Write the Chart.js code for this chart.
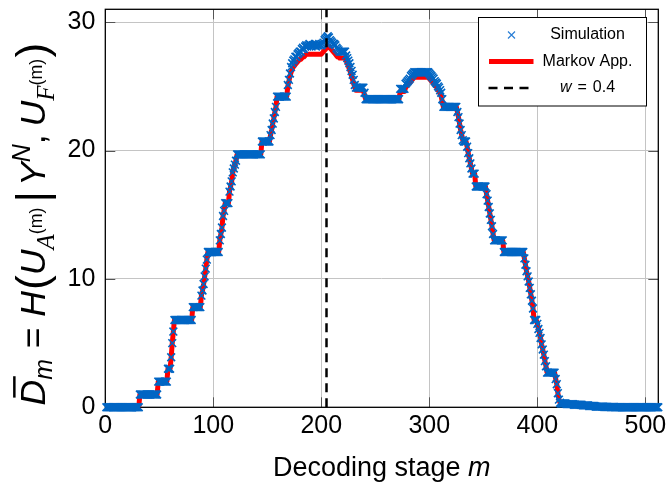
<!DOCTYPE html>
<html><head><meta charset="utf-8">
<script src="https://cdn.jsdelivr.net/npm/chart.js@4.4.1/dist/chart.umd.min.js"></script>
<style>html,body{margin:0;padding:0;background:#fff}</style>
</head><body>
<canvas id="c" width="669" height="483"></canvas>
<script>
// ---- data (stage m = 1..512) ----
const simulation = [
0,0,0,0,0,0,0,0,0,0,
0,0,0,0,0,0,0,0,0,0,
0,0,0,0,0,0,0,0,0,0,
0,1,1,1,1,1,1,1,1,1,
1,1,1,1,1,1,1,1,2,2,
2,2,2,2,2,2,2,3,3,3,
3.9,5.0,5.9,6.8,6.8,6.8,6.8,6.8,6.8,6.8,
6.8,6.8,6.8,6.8,6.8,6.8,6.8,6.8,6.8,6.8,
7.8,7.8,7.8,7.8,7.8,7.8,7.8,7.8,8.7,9.1,
9.6,10.2,10.8,11.5,12.1,12.1,12.1,12.1,12.1,12.1,
12.1,12.1,12.1,12.1,12.1,13.0,13.5,14.0,14.9,15.3,
15.9,15.9,15.9,15.9,16.8,17.2,17.6,18.3,18.6,18.9,
19.2,19.7,19.7,19.7,19.7,19.7,19.7,19.7,19.7,19.7,
19.7,19.7,19.7,19.7,19.7,19.7,19.7,19.7,19.7,19.7,
19.7,19.7,19.7,19.7,20.7,20.7,20.7,20.7,20.7,20.7,
20.7,20.7,21.2,21.6,22.1,22.5,23.0,23.4,24.2,24.2,
24.2,24.2,24.2,24.2,24.2,24.2,24.2,24.2,25.1,25.5,
26.0,26.5,26.8,27.0,27.1,27.3,27.3,27.5,27.6,27.7,
27.7,27.9,28.0,27.9,28.1,28.2,28.1,28.2,28.3,28.2,
28.1,28.2,28.2,28.3,28.1,28.2,28.2,28.3,28.2,28.2,
28.3,28.4,28.6,28.7,28.8,28.9,28.8,28.6,28.5,28.4,
28.3,28.3,28.2,28.0,27.9,27.8,27.7,27.7,27.7,27.7,
27.7,27.7,27.4,27.2,27.0,26.8,26.5,26.2,25.9,25.5,
25.1,24.9,24.9,24.9,24.9,24.9,24.9,24.9,24.9,24.5,
24.0,24.0,24.0,24.0,24.0,24.0,24.0,24.0,24.0,24.0,
24.0,24.0,24.0,24.0,24.0,24.0,24.0,24.0,24.0,24.0,
24.0,24.0,24.0,24.0,24.0,24.0,24.0,24.0,24.0,24.0,
24.0,24.0,24.8,24.8,24.8,24.8,24.8,25.2,25.3,25.4,
25.5,25.6,25.8,25.9,26.0,26.1,26.1,26.1,26.1,26.1,
26.1,26.1,26.1,26.1,26.1,26.1,26.1,26.1,26.1,26.0,
25.9,25.8,25.7,25.6,25.4,25.3,25.2,25.0,24.9,24.7,
24.5,24.0,23.4,23.4,23.4,23.4,23.4,23.4,23.4,23.4,
23.4,23.4,23.4,23.4,23.4,23.0,22.6,22.1,21.6,21.2,
20.8,20.7,20.7,20.7,20.3,19.8,19.4,19.0,18.6,18.2,
18.2,18.2,17.2,17.2,17.2,17.2,17.2,17.2,17.2,17.2,
17.2,17.2,16.6,16.1,15.6,15.1,14.6,14.1,13.5,13.0,
13.0,13.0,13.0,13.0,13.0,13.0,13.0,13.0,12.1,12.1,
12.1,12.1,12.1,12.1,12.1,12.1,12.1,12.1,12.1,12.1,
12.1,12.1,12.1,12.1,12.1,12.1,12.1,11.6,11.1,10.6,
10.2,9.8,9.3,8.8,8.3,7.7,6.8,6.8,6.8,6.5,
6.1,5.8,5.4,4.9,4.5,4.1,3.6,3.2,2.7,2.7,
2.7,2.7,2.7,2.7,2.7,2.7,2.2,1.8,1.1,0.6,
0.35,0.3,0.3,0.3,0.3,0.3,0.25,0.25,0.25,0.25,
0.25,0.25,0.25,0.2,0.2,0.2,0.2,0.2,0.2,0.2,
0.2,0.15,0.15,0.15,0.15,0.15,0.15,0.1,0.1,0.1,
0.1,0.1,0.1,0.05,0.05,0.05,0.05,0.05,0.05,0.05,
0.05,0.02,0.02,0.02,0.02,0.02,0.02,0.02,0.02,0.02,
0.02,0,0,0,0,0,0,0,0,0,
0,0,0,0,0,0,0,0,0,0,
0,0,0,0,0,0,0,0,0,0,
0,0,0,0,0,0,0,0,0,0,
0,0
];
const markovApprox = [
0,0,0,0,0,0,0,0,0,0,
0,0,0,0,0,0,0,0,0,0,
0,0,0,0,0,0,0,0,0,0,
0,1,1,1,1,1,1,1,1,1,
1,1,1,1,1,1,1,1,2,2,
2,2,2,2,2,2,2,3,3,3,
3.9,5.0,5.9,6.8,6.8,6.8,6.8,6.8,6.8,6.8,
6.8,6.8,6.8,6.8,6.8,6.8,6.8,6.8,6.8,6.8,
7.8,7.8,7.8,7.8,7.8,7.8,7.8,7.8,8.7,9.1,
9.6,10.2,10.8,11.5,12.1,12.1,12.1,12.1,12.1,12.1,
12.1,12.1,12.1,12.1,12.1,13.0,13.5,14.0,14.9,15.3,
15.9,15.9,15.9,15.9,16.8,17.2,17.6,18.3,18.6,18.9,
19.2,19.7,19.7,19.7,19.7,19.7,19.7,19.7,19.7,19.7,
19.7,19.7,19.7,19.7,19.7,19.7,19.7,19.7,19.7,19.7,
19.7,19.7,19.7,19.7,20.7,20.7,20.7,20.7,20.7,20.7,
20.7,20.7,21.2,21.6,22.1,22.5,23.0,23.4,24.2,24.2,
24.2,24.2,24.2,24.2,24.2,24.2,24.2,24.2,25.0,25.4,
25.8,26.1,26.3,26.5,26.6,26.7,26.8,26.9,27.0,27.1,
27.1,27.2,27.3,27.3,27.4,27.5,27.5,27.5,27.5,27.5,
27.5,27.5,27.5,27.5,27.5,27.5,27.5,27.5,27.5,27.5,
27.6,27.7,27.8,27.9,28.0,28.1,28.1,28.0,27.9,27.8,
27.7,27.6,27.5,27.4,27.3,27.3,27.2,27.2,27.2,27.2,
27.2,27.2,27.0,26.8,26.6,26.3,26.1,25.8,25.5,25.2,
24.9,24.7,24.7,24.7,24.7,24.7,24.7,24.7,24.7,24.3,
24.0,24.0,24.0,24.0,24.0,24.0,24.0,24.0,24.0,24.0,
24.0,24.0,24.0,24.0,24.0,24.0,24.0,24.0,24.0,24.0,
24.0,24.0,24.0,24.0,24.0,24.0,24.0,24.0,24.0,24.0,
24.0,24.0,24.6,24.6,24.6,24.6,24.6,24.9,25.0,25.1,
25.2,25.3,25.4,25.5,25.6,25.7,25.7,25.7,25.7,25.7,
25.7,25.7,25.7,25.7,25.7,25.7,25.7,25.7,25.7,25.6,
25.5,25.4,25.3,25.2,25.1,25.0,24.9,24.7,24.6,24.4,
24.2,23.8,23.4,23.4,23.4,23.4,23.4,23.4,23.4,23.4,
23.4,23.4,23.4,23.4,23.4,23.0,22.6,22.1,21.6,21.2,
20.8,20.7,20.7,20.7,20.3,19.8,19.4,19.0,18.6,18.2,
18.2,18.2,17.2,17.2,17.2,17.2,17.2,17.2,17.2,17.2,
17.2,17.2,16.6,16.1,15.6,15.1,14.6,14.1,13.5,13.0,
13.0,13.0,13.0,13.0,13.0,13.0,13.0,13.0,12.1,12.1,
12.1,12.1,12.1,12.1,12.1,12.1,12.1,12.1,12.1,12.1,
12.1,12.1,12.1,12.1,12.1,12.1,12.1,11.6,11.1,10.6,
10.2,9.8,9.3,8.8,8.3,7.7,6.8,6.8,6.8,6.5,
6.1,5.8,5.4,4.9,4.5,4.1,3.6,3.2,2.7,2.7,
2.7,2.7,2.7,2.7,2.7,2.7,2.2,1.8,1.1,0.6,
0.35,0.3,0.3,0.3,0.3,0.3,0.25,0.25,0.25,0.25,
0.25,0.25,0.25,0.2,0.2,0.2,0.2,0.2,0.2,0.2,
0.2,0.15,0.15,0.15,0.15,0.15,0.15,0.1,0.1,0.1,
0.1,0.1,0.1,0.05,0.05,0.05,0.05,0.05,0.05,0.05,
0.05,0.02,0.02,0.02,0.02,0.02,0.02,0.02,0.02,0.02,
0.02,0,0,0,0,0,0,0,0,0,
0,0,0,0,0,0,0,0,0,0,
0,0,0,0,0,0,0,0,0,0,
0,0,0,0,0,0,0,0,0,0,
0,0
];
const wLineX = [204.8, 204.8];
const wLineY = [0, 31];
const xTicks = [0, 100, 200, 300, 400, 500];
const yTicks = [0, 10, 20, 30];
const legendLabels = ['Simulation', 'Markov App.', 'w = 0.4'];
const xTitle = ['Decoding stage ', 'm'];

const BLUE = '#0066c4';
const RED = '#ff0000';
const SANS = "'Liberation Sans', Arial, sans-serif";
const SERIF = "'Liberation Serif', 'Times New Roman', serif";

const simPoints = simulation.map((v, i) => ({x: i + 1, y: v}));
const markovPoints = markovApprox.map((v, i) => ({x: i + 1, y: v}));
const wPoints = wLineX.map((v, i) => ({x: v, y: wLineY[i]}));

const framePlugin = {
  id: 'frame',
  beforeDatasetsDraw(chart) {
    const {ctx, chartArea: a, scales: {x, y}} = chart;
    ctx.save();
    ctx.strokeStyle = '#555';
    ctx.lineWidth = 1;
    const L = 10;
    ctx.beginPath();
    xTicks.forEach(v => {
      const px = Math.round(x.getPixelForValue(v)) + 0.5;
      ctx.moveTo(px, a.bottom); ctx.lineTo(px, a.bottom - L);
      ctx.moveTo(px, a.top); ctx.lineTo(px, a.top + L);
    });
    yTicks.forEach(v => {
      const py = Math.round(y.getPixelForValue(v)) + 0.5;
      ctx.moveTo(a.left, py); ctx.lineTo(a.left + L, py);
      ctx.moveTo(a.right, py); ctx.lineTo(a.right - L, py);
    });
    ctx.stroke();
    ctx.strokeStyle = '#000';
    ctx.lineWidth = 1.3;
    ctx.strokeRect(a.left, a.top, a.right - a.left, a.bottom - a.top);
    ctx.restore();
  }
};

function drawPieces(ctx, pieces, x0, yc, rotate) {
  let total = 0;
  pieces.forEach(p => { ctx.font = p.font; p.w = ctx.measureText(p.t).width; total += p.w + (p.gap || 0); });
  ctx.save();
  if (rotate) { ctx.translate(x0, yc + total / 2); ctx.rotate(-Math.PI / 2); }
  else { ctx.translate(x0 - total / 2, yc); }
  let cx = 0;
  ctx.fillStyle = '#000';
  ctx.textAlign = 'left';
  pieces.forEach(p => {
    ctx.font = p.font;
    ctx.fillText(p.t, cx, p.dy || 0);
    if (p.bar) {
      ctx.strokeStyle = '#000';
      ctx.lineWidth = p.bar.w;
      ctx.beginPath();
      ctx.moveTo(cx + p.bar.x0, p.bar.y); ctx.lineTo(cx + p.bar.x1, p.bar.y);
      ctx.stroke();
    }
    cx += p.w + (p.gap || 0);
  });
  ctx.restore();
  return total;
}

function formulaPieces(S) {
  const it = s => `italic ${s}px ${SANS}`;
  const up = s => `${s}px ${SANS}`;
  const cal = s => `italic ${s}px ${SERIF}`;
  const sub = 0.7 * S, ss = 0.5 * S, big = 1.25 * S;
  return [
    {t: 'D', font: it(S), bar: {x0: 0.22 * S, x1: 0.82 * S, y: -0.86 * S, w: 0.07 * S}},
    {t: 'm', font: it(sub), dy: 0.2 * S, gap: 0.3 * S},
    {t: '=', font: up(S), gap: 0.3 * S},
    {t: 'H', font: it(S), gap: 0.03 * S},
    {t: '(', font: up(big), dy: 0.06 * S},
    {t: 'U', font: it(S)},
    {t: 'A', font: cal(sub), dy: 0.25 * S},
    {t: '(m)', font: up(ss), dy: -0.08 * S, gap: 0.14 * S},
    {t: '|', font: up(big), dy: 0.06 * S, gap: 0.14 * S},
    {t: 'Y', font: it(S)},
    {t: 'N', font: it(sub), dy: -0.42 * S},
    {t: ',', font: up(S), gap: 0.22 * S},
    {t: 'U', font: it(S)},
    {t: 'F', font: cal(sub), dy: 0.25 * S},
    {t: '(m)', font: up(ss), dy: -0.08 * S, gap: 0.04 * S},
    {t: ')', font: up(big), dy: 0.06 * S}
  ];
}

const titlesPlugin = {
  id: 'titles',
  afterDraw(chart) {
    const {ctx, chartArea: a} = chart;
    ctx.save();
    ctx.textBaseline = 'alphabetic';
    drawPieces(ctx, [
      {t: xTitle[0], font: `27px ${SANS}`},
      {t: xTitle[1], font: `italic 27px ${SANS}`}
    ], (a.left + a.right) / 2, 476, false);
    let S = 28;
    let total = 0;
    formulaPieces(S).forEach(p => { ctx.font = p.font; total += ctx.measureText(p.t).width + (p.gap || 0); });
    S = S * 363 / total;
    drawPieces(ctx, formulaPieces(S), 45, 224, true);
    ctx.restore();
  }
};

const legendPlugin = {
  id: 'boxLegend',
  afterDraw(chart) {
    const {ctx} = chart;
    const bx = 478.5, by = 17.5, bw = 168, bh = 88.5;
    ctx.save();
    ctx.fillStyle = '#fff';
    ctx.fillRect(bx, by, bw, bh);
    ctx.strokeStyle = '#000';
    ctx.lineWidth = 1;
    ctx.strokeRect(bx, by, bw, bh);
    const rows = [35, 61.5, 88];
    const tx = 587.5;
    ctx.strokeStyle = '#2a7fd6'; ctx.lineWidth = 1.2;
    ctx.beginPath();
    ctx.moveTo(508, rows[0] - 3.5); ctx.lineTo(515, rows[0] + 3.5);
    ctx.moveTo(515, rows[0] - 3.5); ctx.lineTo(508, rows[0] + 3.5);
    ctx.stroke();
    ctx.strokeStyle = RED; ctx.lineWidth = 5;
    ctx.beginPath(); ctx.moveTo(489, rows[1]); ctx.lineTo(533.5, rows[1]); ctx.stroke();
    ctx.strokeStyle = '#000'; ctx.lineWidth = 2.5; ctx.setLineDash([9, 6.5]);
    ctx.beginPath(); ctx.moveTo(488.5, rows[2]); ctx.lineTo(528.5, rows[2]); ctx.stroke();
    ctx.setLineDash([]);
    ctx.fillStyle = '#000';
    ctx.textBaseline = 'middle';
    ctx.textAlign = 'center';
    ctx.font = `16px ${SANS}`;
    ctx.fillText(legendLabels[0], tx, rows[0]);
    ctx.fillText(legendLabels[1], tx, rows[1]);
    const parts = legendLabels[2].split(' ');
    drawPieces(ctx, [
      {t: parts[0], font: `italic 16px ${SANS}`, gap: 6},
      {t: parts[1], font: `16px ${SANS}`, gap: 6},
      {t: parts[2], font: `16px ${SANS}`}
    ], tx, rows[2], false);
    ctx.restore();
  }
};

new Chart(document.getElementById('c'), {
  type: 'line',
  data: {
    datasets: [
      {label: legendLabels[2], data: wPoints, borderColor: '#000', borderWidth: 2.5, borderDash: [9, 6], pointRadius: 0, order: 0},
      {label: legendLabels[0], data: simPoints, showLine: false, pointStyle: 'crossRot', pointRadius: 5.5,
       pointBorderWidth: 1.6, borderColor: BLUE, backgroundColor: BLUE, order: 1, clip: false},
      {label: legendLabels[1], data: markovPoints, borderColor: RED, borderWidth: 5, pointRadius: 0, order: 2,
       tension: 0, borderJoinStyle: 'round', borderCapStyle: 'butt'}
    ]
  },
  options: {
    responsive: false,
    animation: false,
    devicePixelRatio: 1,
    layout: {padding: {top: 9.3, right: 10.7, left: 0, bottom: 0}},
    plugins: {legend: {display: false}, tooltip: {enabled: false}},
    scales: {
      x: {
        type: 'linear', min: 0, max: 512,
        afterBuildTicks(s) { s.ticks = xTicks.map(v => ({value: v})); },
        afterFit(s) { s.height = 75.7; s.paddingLeft = 0; s.paddingRight = 0; },
        grid: {color: '#c4c4c4', lineWidth: 1, drawTicks: false},
        border: {display: false},
        ticks: {font: {family: SANS, size: 25}, color: '#000', padding: 4, maxRotation: 0, autoSkip: false}
      },
      y: {
        type: 'linear', min: 0, max: 31,
        afterBuildTicks(s) { s.ticks = yTicks.map(v => ({value: v})); },
        afterFit(s) { s.width = 105.3; s.paddingTop = 0; s.paddingBottom = 0; },
        grid: {color: '#c4c4c4', lineWidth: 1, drawTicks: false},
        border: {display: false},
        ticks: {font: {family: SANS, size: 25}, color: '#000', padding: 10}
      }
    }
  },
  plugins: [framePlugin, titlesPlugin, legendPlugin]
});
</script>
</body></html>
